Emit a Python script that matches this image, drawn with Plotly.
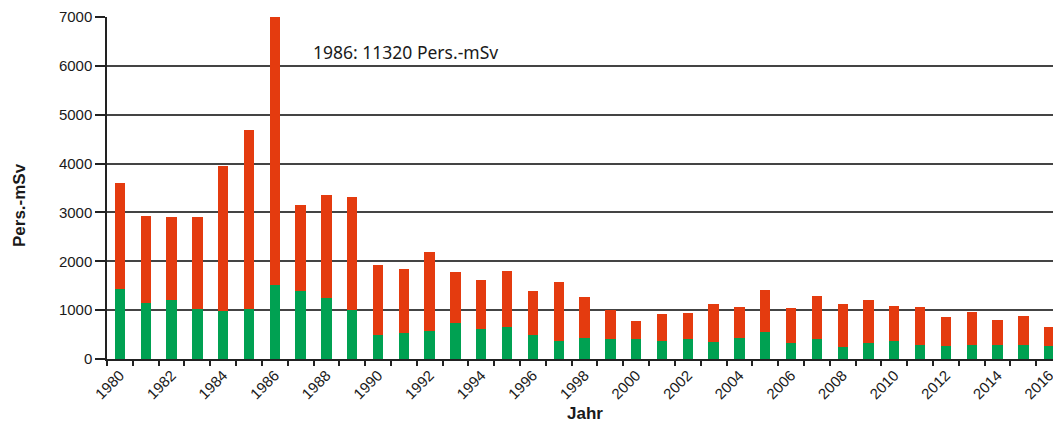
import plotly.graph_objects as go

years = list(range(1980, 2017))
total = [3610, 2930, 2900, 2900, 3950, 4690, 11320, 3160, 3350, 3310,
         1927, 1835, 2185, 1775, 1610, 1795, 1385, 1570, 1278, 1003,
         775, 915, 937, 1120, 1070, 1406, 1046, 1292, 1120, 1203,
         1092, 1066, 856, 958, 807, 882, 657]
green = [1437, 1145, 1198, 1028, 975, 1028, 1505, 1396, 1240, 1008,
         490, 542, 580, 730, 614, 655, 498, 375, 437, 409,
         409, 375, 409, 355, 437, 546, 334, 402, 246, 334,
         362, 280, 266, 280, 280, 280, 266]
red = [t - g for t, g in zip(total, green)]

tick_years = list(range(1980, 2017, 2))
tick_labels = [str(y) for y in tick_years]
y_ticks = list(range(0, 7001, 1000))

GREEN = "#00A152"
RED = "#E43B0F"
FONT = "Liberation Sans, Arial, sans-serif"

# page has an 8px body margin: figure starts at (8, 8) in the window
OFF = 8
W, H = 1061 - OFF, 431 - OFF
L, R, T, B = 107, 1060, 17, 359  # plot area in window pixels

fig = go.Figure()
fig.add_trace(go.Bar(x=years, y=green, marker=dict(color=GREEN, line=dict(width=0)),
                     name="Anteil 1", width=0.4))
fig.add_trace(go.Bar(x=years, y=red, marker=dict(color=RED, line=dict(width=0)),
                     name="Anteil 2", width=0.4))

fig.update_layout(
    barmode="stack",
    width=W, height=H,
    margin=dict(l=L - OFF, r=1061 - R, t=T - OFF, b=431 - B),
    paper_bgcolor="white", plot_bgcolor="white",
    showlegend=False,
    font=dict(family=FONT, size=14, color="#1a1a1a"),
)
fig.update_xaxes(
    range=[1979.5, 2016.42], automargin=False,
    tickmode="array", tickvals=tick_years, ticktext=tick_labels,
    tickangle=-45, ticks="", tickfont=dict(size=15, family=FONT),
    showgrid=False, showline=True, linecolor="#222", linewidth=1.5,
    minor=dict(tick0=1979.5, dtick=1, ticks="outside", ticklen=5,
               tickcolor="#222", tickwidth=1.5, showgrid=False),
)
fig.update_yaxes(
    range=[0, 7000], tickvals=y_ticks, ticks="outside", ticklen=10, automargin=False,
    tickcolor="#222", tickwidth=1.5, tickfont=dict(size=15, family=FONT),
    showgrid=True, gridcolor="#444", gridwidth=1.5,
    showline=True, linecolor="#222", linewidth=1.5, zeroline=False,
)
fig.add_shape(type="line", xref="paper", yref="paper", x0=1, x1=1, y0=0, y1=1,
              line=dict(color="#999", width=1))
fig.add_annotation(text="1986: 11320 Pers.-mSv", x=405, y=52, showarrow=False,
                   font=dict(family="Noto Sans, sans-serif", size=17.5, color="#1a1a1a"))
fig.add_annotation(text="<b>Jahr</b>", x=585, y=414, showarrow=False,
                   font=dict(size=17, family=FONT, color="#1a1a1a"))
fig.add_annotation(text="<b>Pers.-mSv</b>", x=19, y=205, showarrow=False, textangle=-90,
                   font=dict(size=17, family=FONT, color="#1a1a1a"))

# convert window-pixel positions of annotations to paper coords
for ann in fig.layout.annotations:
    px, py = ann.x, ann.y
    ann.x = (px - L) / (R - L)
    ann.y = (B - py) / (B - T)
    ann.xref = "paper"
    ann.yref = "paper"
    ann.xanchor = "center"
    ann.yanchor = "middle"

fig.write_html("out.html")
